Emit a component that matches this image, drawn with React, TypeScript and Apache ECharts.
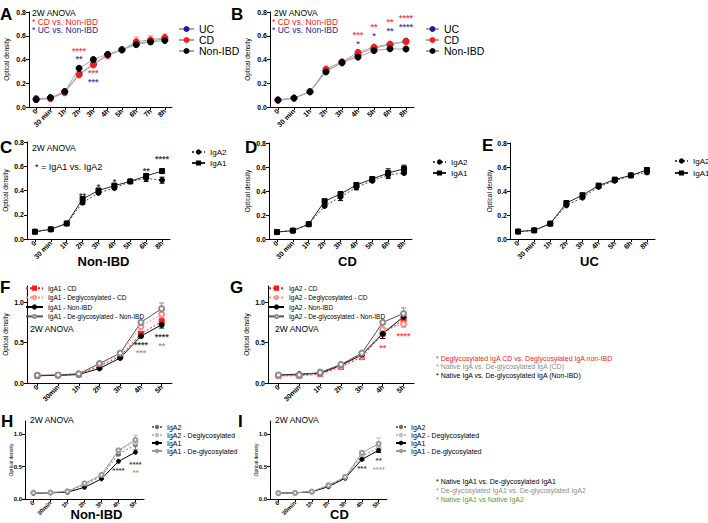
import React, { useEffect, useRef } from 'react';
import * as echarts from 'echarts';

const FONT = '"Liberation Sans", Arial, Helvetica, sans-serif';

// ---------- colours ----------
const RED = '#ff1a1a';
const PINK = '#ff8c8c';
const BLUE = '#1c1c9c';
const GRAY = '#8c8c8c';
const LGRAY = '#bdbdbd';
const GREEN = '#5a9e1e';

// ---------- categories ----------
const catsA = ['0', '30 min', '1h', '2h', '3h', '4h', '5h', '6h', '7h', '8h'];
const catsB = ['0', '30 min', '1h', '2h', '3h', '4h', '5h', '6h', '8h'];
const catsF = ['0', '30min', '1h', '2h', '3h', '4h', '5h'];

// ---------- Panel A ----------
const aUC = [0.07, 0.075, 0.13, 0.28, 0.36, 0.44, 0.48, 0.535, 0.555, 0.575];
const aCD = [0.062, 0.07, 0.12, 0.27, 0.354, 0.435, 0.48, 0.55, 0.565, 0.585];
const aNon = [0.063, 0.08, 0.13, 0.326, 0.4, 0.443, 0.483, 0.525, 0.548, 0.56];
const aCDerr = [0, 0, 0, 0.01, 0.015, 0.025, 0.015, 0.04, 0.035, 0.03];
const aNonErr = [0, 0, 0, 0.01, 0.01, 0.01, 0.01, 0.015, 0.015, 0.01];
const aStarsCD: [number, number, string][] = [[3, 0.485, '****'], [4, 0.307, '***']];
const aStarsUC: [number, number, string][] = [[3, 0.418, '**'], [4, 0.229, '***']];

// ---------- Panel B ----------
const bUC = [0.06, 0.075, 0.128, 0.305, 0.37, 0.445, 0.495, 0.525, 0.555];
const bCD = [0.058, 0.075, 0.128, 0.32, 0.38, 0.46, 0.505, 0.53, 0.55];
const bNon = [0.058, 0.075, 0.128, 0.295, 0.377, 0.42, 0.475, 0.49, 0.488];
const bNonErr = [0, 0, 0, 0.01, 0.005, 0.01, 0.01, 0.015, 0.02];
const bStarsCD: [number, number, string][] = [[5, 0.624, '***'], [6, 0.688, '**'], [7, 0.73, '**'], [8, 0.764, '****']];
const bStarsUC: [number, number, string][] = [[5, 0.549, '*'], [6, 0.613, '*'], [7, 0.655, '**'], [8, 0.688, '****']];

// ---------- Panel C (Non-IBD) ----------
const cIgA2 = [0.06, 0.08, 0.128, 0.3, 0.38, 0.42, 0.475, 0.5, 0.485];
const cIgA1 = [0.06, 0.08, 0.128, 0.33, 0.4, 0.44, 0.475, 0.52, 0.56];
const cErr2 = [0, 0, 0, 0.015, 0.01, 0.01, 0.005, 0.025, 0.025];
const cErr1 = [0, 0, 0, 0.01, 0.01, 0.01, 0.005, 0.02, 0.005];
const cStars: [number, number, string][] = [[3, 0.375, '**'], [4, 0.444, '*'], [5, 0.485, '*'], [7, 0.58, '**'], [8, 0.677, '****']];

// ---------- Panel D (CD) ----------
const dIgA2 = [0.058, 0.07, 0.123, 0.275, 0.35, 0.43, 0.485, 0.535, 0.55];
const dIgA1 = [0.058, 0.07, 0.123, 0.315, 0.375, 0.45, 0.5, 0.55, 0.585];
const dErr2 = [0, 0, 0, 0.01, 0.03, 0.02, 0.01, 0.03, 0.01];
const dErr1 = [0, 0, 0, 0.01, 0.015, 0.015, 0.01, 0.035, 0.03];

// ---------- Panel E (UC) ----------
const eIgA2 = [0.062, 0.072, 0.128, 0.28, 0.345, 0.435, 0.485, 0.53, 0.555];
const eIgA1 = [0.062, 0.072, 0.128, 0.3, 0.365, 0.445, 0.495, 0.53, 0.575];
const eErr = [0, 0, 0, 0.01, 0.01, 0.01, 0.01, 0.005, 0.015];

// ---------- Panel F (IgA1) ----------
const fCD = [0.09, 0.095, 0.105, 0.21, 0.33, 0.61, 0.76];
const fDeCD = [0.09, 0.095, 0.11, 0.22, 0.35, 0.7, 0.85];
const fNon = [0.09, 0.095, 0.105, 0.18, 0.31, 0.58, 0.72];
const fDeNon = [0.095, 0.1, 0.115, 0.24, 0.37, 0.75, 0.92];
const fErrDeNon = [0, 0, 0.01, 0.01, 0.01, 0.02, 0.07];
const fErrCD = [0, 0, 0, 0.01, 0.01, 0.02, 0.04];
const fStarsBlack: [number, number, string][] = [[5, 0.5, '****'], [6, 0.597, '****']];
const fStarsGray: [number, number, string][] = [[5, 0.39, '***'], [6, 0.486, '**']];

// ---------- Panel G (IgA2) ----------
const gCD = [0.09, 0.09, 0.11, 0.2, 0.32, 0.61, 0.78];
const gDeCD = [0.09, 0.09, 0.115, 0.21, 0.33, 0.66, 0.73];
const gNon = [0.1, 0.11, 0.12, 0.22, 0.35, 0.61, 0.82];
const gDeNon = [0.1, 0.1, 0.13, 0.23, 0.37, 0.75, 0.86];
const gErrNon = [0, 0.01, 0.01, 0.01, 0.01, 0.06, 0.03];
const gErrDeNon = [0, 0, 0.04, 0.01, 0.01, 0.02, 0.07];
const gErrDeCD = [0, 0, 0, 0.01, 0.01, 0.02, 0.04];
const gStarsRed: [number, number, string][] = [[5, 0.46, '**'], [6, 0.609, '****']];

// ---------- Panel H (Non-IBD) ----------
const hIgA2 = [0.09, 0.095, 0.11, 0.22, 0.35, 0.69, 0.83];
const hDeIgA2 = [0.095, 0.1, 0.12, 0.23, 0.36, 0.74, 0.87];
const hIgA1 = [0.09, 0.095, 0.105, 0.18, 0.31, 0.58, 0.72];
const hDeIgA1 = [0.095, 0.1, 0.115, 0.24, 0.37, 0.75, 0.91];
const hErr = [0, 0, 0.02, 0.01, 0.01, 0.02, 0.07];
const hStarsBlack: [number, number, string][] = [[5, 0.464, '****'], [6, 0.567, '****']];
const hStarsGreen: [number, number, string][] = [[6, 0.433, '**']];

// ---------- Panel I (CD) ----------
const iIgA2 = [0.09, 0.095, 0.11, 0.2, 0.33, 0.66, 0.79];
const iDeIgA2 = [0.09, 0.095, 0.11, 0.21, 0.34, 0.68, 0.78];
const iIgA1 = [0.09, 0.095, 0.11, 0.19, 0.32, 0.61, 0.75];
const iDeIgA1 = [0.09, 0.095, 0.115, 0.21, 0.34, 0.71, 0.85];
const iErr = [0, 0, 0, 0.01, 0.01, 0.03, 0.09];
const iStarsBlack: [number, number, string][] = [[5, 0.5, '***'], [6, 0.63, '**']];
const iStarsGray: [number, number, string][] = [[6, 0.49, '****']];

// ---------- texts ----------
const anova = '2W ANOVA';
const notesG = [
  { t: '* Deglycosylated IgA CD vs. Deglycosylated IgA non-IBD', c: RED },
  { t: '* Native IgA vs. De-glycosylated IgA (CD)', c: GRAY },
  { t: '* Native IgA vs. De-glycosylated IgA (Non-IBD)', c: '#000' },
];
const notesI = [
  { t: '* Native IgA1 vs. De-glycosylated IgA1', c: '#000' },
  { t: '* De-glycosylated IgA1 vs. De-glycosylated IgA2', c: GRAY },
  { t: '* Native IgA1 vs Native IgA2', c: GREEN },
];

function lineS(name: string, g: number, data: number[], o: any) {
  return {
    type: 'line', name, xAxisIndex: g, yAxisIndex: g, data,
    symbol: o.symbol || 'circle', symbolSize: o.size || 5, showSymbol: true,
    itemStyle: { color: o.mc, borderColor: o.mc, borderWidth: 1 },
    lineStyle: { color: o.lc, width: o.lw || 1, type: o.dash || 'solid' },
    z: o.z || 3, silent: true,
  };
}

function errS(g: number, vals: number[], errs: number[], color: string) {
  return {
    type: 'custom', xAxisIndex: g, yAxisIndex: g, silent: true, z: 2,
    data: vals.map((v, i) => [i, v - errs[i], v + errs[i]]).filter((_, i) => errs[i] > 0),
    renderItem: (_p: any, api: any) => {
      const lo = api.coord([api.value(0), api.value(1)]);
      const hi = api.coord([api.value(0), api.value(2)]);
      const w = 2.5;
      const st = { stroke: color, lineWidth: 1 };
      return {
        type: 'group',
        children: [
          { type: 'line', shape: { x1: lo[0], y1: lo[1], x2: hi[0], y2: hi[1] }, style: st },
          { type: 'line', shape: { x1: lo[0] - w, y1: lo[1], x2: lo[0] + w, y2: lo[1] }, style: st },
          { type: 'line', shape: { x1: hi[0] - w, y1: hi[1], x2: hi[0] + w, y2: hi[1] }, style: st },
        ],
      };
    },
  };
}

function starS(g: number, items: [number, number, string][], color: string, size = 9) {
  return {
    type: 'scatter', xAxisIndex: g, yAxisIndex: g, silent: true, z: 6,
    symbolSize: 1, itemStyle: { color: 'transparent' },
    data: items.map(([i, y, t]) => ({ name: t, value: [i, y] })),
    label: {
      show: true, position: 'inside', formatter: (p: any) => p.name, color,
      fontSize: size, fontWeight: 'bold', fontFamily: FONT, offset: [0, 2], lineHeight: Math.round(size * 0.6),
    },
  };
}

function buildOption() {
  const layout = [
    { l: 29, t: 12, w: 143, h: 95, cats: catsA, ymax: 0.8, yg: 19, yn: 6.5, lab: 7 },
    { l: 270, t: 12, w: 144, h: 95, cats: catsB, ymax: 0.8, yg: 19, yn: 6.5, lab: 7 },
    { l: 27, t: 142, w: 143, h: 97, cats: catsB, ymax: 0.8, yg: 18, yn: 6.5, lab: 7, xn: 'Non-IBD', xg: 16, xs: 5 },
    { l: 269, t: 143, w: 143, h: 96, cats: catsB, ymax: 0.8, yg: 18, yn: 6.5, lab: 7, xn: 'CD', xg: 16, xs: 7 },
    { l: 510, t: 143, w: 145, h: 96, cats: catsB, ymax: 0.8, yg: 17, yn: 6.5, lab: 7, xn: 'UC', xg: 16, xs: 7 },
    { l: 27, t: 286, w: 145, h: 97, cats: catsF, ymax: 1.2, yg: 18, yn: 6.5, lab: 7 },
    { l: 268, t: 286, w: 146, h: 97, cats: catsF, ymax: 1.2, yg: 18, yn: 6.5, lab: 7 },
    { l: 25, t: 421, w: 119, h: 78, cats: catsF, ymax: 1.2, yg: 12, yn: 5, lab: 6, xn: 'Non-IBD', xg: 9, xs: 12 },
    { l: 270, t: 421, w: 117, h: 78, cats: catsF, ymax: 1.2, yg: 12, yn: 5, lab: 6, xn: 'CD', xg: 9, xs: 11 },
  ];

  const grid = layout.map((p) => ({ left: p.l, top: p.t, width: p.w, height: p.h, containLabel: false, outerBoundsMode: 'none' }));

  const xAxis = layout.map((p: any, i) => ({
    type: 'category', gridIndex: i, data: p.cats, boundaryGap: true,
    axisLine: { show: true, lineStyle: { color: '#000', width: 1 } },
    axisTick: { show: true, alignWithLabel: true, length: 3, lineStyle: { color: '#000', width: 1 } },
    axisLabel: { show: true, interval: 0, rotate: 45, fontSize: p.lab, fontWeight: 'bold', fontFamily: FONT, color: '#000', margin: 3 },
    splitLine: { show: false },
    name: p.xn || '', nameLocation: 'middle', nameGap: p.xg || 15, nameMoveOverlap: false,
    nameTextStyle: { fontSize: 13, fontWeight: 'bold', color: '#000', fontFamily: FONT, verticalAlign: 'top', padding: [0, 0, 0, (p.xs || 0) * 2] },
  }));

  const yAxis = layout.map((p: any, i) => {
    const big = p.ymax > 1;
    const tickVals = big ? [0, 0.5, 1] : [0, 0.2, 0.4, 0.6, 0.8];
    return {
      type: 'value', gridIndex: i, min: 0, max: p.ymax, interval: big ? 0.5 : 0.2,
      axisLine: { show: true, lineStyle: { color: '#000', width: 1 } },
      axisTick: { show: true, length: 3, lineStyle: { color: '#000', width: 1 }, customValues: tickVals },
      axisLabel: {
        show: true, fontSize: p.lab, fontWeight: 'bold', fontFamily: FONT, color: '#000', margin: 3,
        customValues: tickVals,
        formatter: (v: number) => (tickVals.some((t) => Math.abs(t - v) < 1e-6) ? v.toFixed(1) : ''),
      },
      splitLine: { show: false },
      name: 'Optical density', nameLocation: 'middle', nameGap: p.yg, nameMoveOverlap: false,
      nameTextStyle: { fontSize: p.yn, color: '#000', fontFamily: FONT },
    };
  });

  const series: any[] = [
    // A
    errS(0, aCD, aCDerr, PINK), errS(0, aNon, aNonErr, LGRAY),
    lineS('UC', 0, aUC, { mc: BLUE, lc: '#a8a8a8', size: 6 }),
    lineS('CD', 0, aCD, { mc: RED, lc: '#a8a8a8', size: 6 }),
    lineS('Non-IBD', 0, aNon, { mc: '#000', lc: '#a8a8a8', size: 6, z: 4 }),
    starS(0, aStarsCD, RED), starS(0, aStarsUC, BLUE),
    // B
    errS(1, bNon, bNonErr, LGRAY),
    lineS('UC', 1, bUC, { mc: BLUE, lc: '#a8a8a8', size: 6 }),
    lineS('CD', 1, bCD, { mc: RED, lc: '#a8a8a8', size: 6 }),
    lineS('Non-IBD', 1, bNon, { mc: '#000', lc: '#a8a8a8', size: 6, z: 4 }),
    starS(1, bStarsCD, RED), starS(1, bStarsUC, BLUE),
    // C
    errS(2, cIgA2, cErr2, '#000'), errS(2, cIgA1, cErr1, '#000'),
    lineS('IgA2', 2, cIgA2, { mc: '#000', lc: '#444', dash: [2, 2] }),
    lineS('IgA1', 2, cIgA1, { mc: '#000', lc: '#222', symbol: 'rect' }),
    starS(2, cStars, '#000'),
    // D
    errS(3, dIgA2, dErr2, '#000'), errS(3, dIgA1, dErr1, '#000'),
    lineS('IgA2', 3, dIgA2, { mc: '#000', lc: '#444', dash: [2, 2] }),
    lineS('IgA1', 3, dIgA1, { mc: '#000', lc: '#222', symbol: 'rect' }),
    // E
    errS(4, eIgA2, eErr, '#000'), errS(4, eIgA1, eErr, '#000'),
    lineS('IgA2', 4, eIgA2, { mc: '#000', lc: '#444', dash: [2, 2] }),
    lineS('IgA1', 4, eIgA1, { mc: '#000', lc: '#222', symbol: 'rect' }),
    // F
    errS(5, fDeNon, fErrDeNon, GRAY), errS(5, fCD, fErrCD, RED), errS(5, fDeCD, fErrCD, PINK), errS(5, fNon, fErrCD, '#000'),
    lineS('IgA1 - CD', 5, fCD, { mc: RED, lc: RED, dash: [2, 2], symbol: 'rect' }),
    lineS('IgA1 - Deglycosylated - CD', 5, fDeCD, { mc: PINK, lc: PINK, dash: [2, 2], symbol: 'emptyCircle' }),
    lineS('IgA1 - Non-IBD', 5, fNon, { mc: '#000', lc: '#000' }),
    lineS('IgA1 - De-glycosylated - Non-IBD', 5, fDeNon, { mc: GRAY, lc: '#555', symbol: 'emptyCircle' }),
    starS(5, fStarsBlack, '#000'), starS(5, fStarsGray, GRAY),
    // G
    errS(6, gNon, gErrNon, '#000'), errS(6, gDeNon, gErrDeNon, GRAY), errS(6, gDeCD, gErrDeCD, PINK), errS(6, gCD, gErrDeCD, RED),
    lineS('IgA2 - CD', 6, gCD, { mc: RED, lc: RED, dash: [2, 2], symbol: 'rect' }),
    lineS('IgA2 - Deglycosylated - CD', 6, gDeCD, { mc: PINK, lc: PINK, dash: [2, 2], symbol: 'emptyCircle' }),
    lineS('IgA2 - Non-IBD', 6, gNon, { mc: '#000', lc: '#000' }),
    lineS('IgA2 - De-glycosylated - Non-IBD', 6, gDeNon, { mc: GRAY, lc: '#555', symbol: 'emptyCircle' }),
    starS(6, gStarsRed, RED),
    // H
    errS(7, hDeIgA1, hErr, LGRAY), errS(7, hIgA2, hErr, GRAY),
    lineS('IgA2#h', 7, hIgA2, { mc: '#6e6e6e', lc: '#6e6e6e', dash: [2, 2], size: 4 }),
    lineS('IgA2 - Deglycosylated', 7, hDeIgA2, { mc: LGRAY, lc: LGRAY, dash: [2, 2], symbol: 'emptyCircle', size: 4 }),
    lineS('IgA1#h', 7, hIgA1, { mc: '#000', lc: '#000', size: 4 }),
    lineS('IgA1 - De-glycosylated', 7, hDeIgA1, { mc: '#9a9a9a', lc: '#9a9a9a', size: 4, symbol: 'emptyCircle' }),
    starS(7, hStarsBlack, '#000', 8), starS(7, hStarsGreen, GREEN, 8),
    // I
    errS(8, iDeIgA1, iErr, LGRAY), errS(8, iIgA1, hErr.map((e) => e * 0.5), '#000'),
    lineS('IgA2#h', 8, iIgA2, { mc: '#6e6e6e', lc: '#6e6e6e', dash: [2, 2], size: 4 }),
    lineS('IgA2 - Deglycosylated', 8, iDeIgA2, { mc: LGRAY, lc: LGRAY, dash: [2, 2], symbol: 'emptyCircle', size: 4 }),
    lineS('IgA1#h', 8, iIgA1, { mc: '#000', lc: '#000', size: 4 }),
    lineS('IgA1 - De-glycosylated', 8, iDeIgA1, { mc: '#9a9a9a', lc: '#9a9a9a', size: 4, symbol: 'emptyCircle' }),
    starS(8, iStarsBlack, '#000', 8), starS(8, iStarsGray, GRAY, 8),
  ];

  const mkLegend = (left: number, top: number, names: string[], fs: number, lh: number, iw: number, ih: number) => ({
    left, top, orient: 'vertical', padding: 0, itemGap: 0, itemWidth: iw, itemHeight: ih,
    selectedMode: false, data: names,
    formatter: (n: string) => n.split('#')[0],
    textStyle: { fontSize: fs, lineHeight: lh, color: '#000', fontFamily: FONT, padding: 0 },
  });

  const legend = [
    mkLegend(178, 23.5, ['UC', 'CD', 'Non-IBD'], 10.5, 11, 15, 5),
    mkLegend(425, 23.5, ['UC', 'CD', 'Non-IBD'], 10.5, 11, 13, 5),
    mkLegend(191, 146.5, ['IgA2', 'IgA1'], 8, 11, 13, 4),
    mkLegend(432, 156.5, ['IgA2', 'IgA1'], 8, 11, 13, 4),
    mkLegend(674, 155, ['IgA2', 'IgA1'], 8, 12, 13, 4),
    mkLegend(25, 283.5, ['IgA1 - CD', 'IgA1 - Deglycosylated - CD', 'IgA1 - Non-IBD', 'IgA1 - De-glycosylated - Non-IBD'], 6.5, 9.4, 17, 4),
    mkLegend(268, 283.5, ['IgA2 - CD', 'IgA2 - Deglycosylated - CD', 'IgA2 - Non-IBD', 'IgA2 - De-glycosylated - Non-IBD'], 6.5, 9.4, 15, 4),
    mkLegend(151, 423, ['IgA2#h', 'IgA2 - Deglycosylated', 'IgA1#h', 'IgA1 - De-glycosylated'], 7, 8, 10, 3),
    mkLegend(395, 423, ['IgA2#h', 'IgA2 - Deglycosylated', 'IgA1#h', 'IgA1 - De-glycosylated'], 7, 8, 10, 3),
  ];

  const txt = (x: number, y: number, text: string, fill: string, size: number, weight = 'normal') => ({
    type: 'text', x, y, silent: true,
    style: { text, fill, fontSize: size, fontWeight: weight, fontFamily: FONT, align: 'left', verticalAlign: 'middle' },
  });
  const letter = (x: number, y: number, text: string) => ({
    type: 'text', x, y, silent: true,
    style: { text, fill: '#000', fontSize: 17, fontWeight: 'bold', fontFamily: FONT, align: 'left', verticalAlign: 'top' },
  });

  const graphic = [
    letter(0, 6, 'A'), letter(231, 6, 'B'), letter(0, 139, 'C'), letter(245, 139, 'D'), letter(482, 137, 'E'),
    letter(0, 279, 'F'), letter(230, 279, 'G'), letter(1, 413, 'H'), letter(238, 413, 'I'),
    txt(32, 13, anova, '#000', 8.5), txt(32, 21.5, '* CD vs. Non-IBD', RED, 8.5), txt(32, 30, '* UC vs. Non-IBD', BLUE, 8.5),
    txt(274, 13, anova, '#000', 8.5), txt(272, 21.5, '* CD vs. Non-IBD', RED, 8.5), txt(272, 30, '* UC vs. Non-IBD', BLUE, 8.5),
    txt(32, 148, anova, '#000', 8.5), txt(35, 167, '* = IgA1 vs. IgA2', '#000', 9),
    txt(30, 329, anova, '#000', 8.5), txt(275, 329, anova, '#000', 8.5),
    txt(30, 420, anova, '#000', 8.5), txt(275, 420, anova, '#000', 8.5),
    ...notesG.map((n, i) => txt(436, 358 + i * 8.7, n.t, n.c, 7)),
    ...notesI.map((n, i) => txt(436, 481 + i * 9, n.t, n.c, 7)),
  ];

  return {
    animation: false,
    backgroundColor: '#fff',
    textStyle: { fontFamily: FONT },
    grid, xAxis, yAxis, series, legend, graphic,
  };
}

export default function App() {
  const ref = useRef<HTMLDivElement>(null);
  useEffect(() => {
    const chart = echarts.init(ref.current as HTMLDivElement, null, { renderer: 'svg' });
    chart.setOption(buildOption() as any);
    return () => chart.dispose();
  }, []);
  return (
    <div
      ref={ref}
      style={{ position: 'fixed', left: 0, top: 0, width: 708, height: 523, background: '#fff' }}
    />
  );
}
